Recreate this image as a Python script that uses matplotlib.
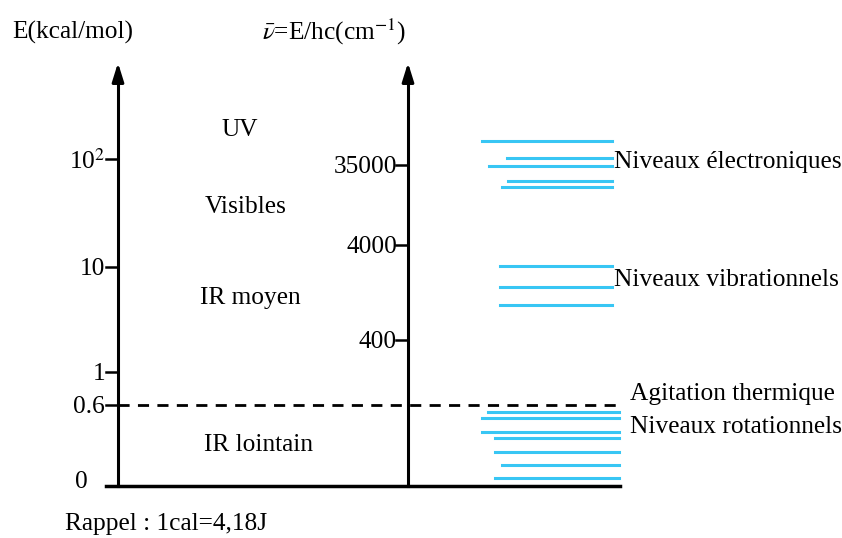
import matplotlib.pyplot as plt

# diagram laid out in pixel-like units (x right, y down)
left_ticks = ["10$^2$", "10", "1", "0.6"]
left_tick_y = [159, 267, 372, 405]
right_ticks = ["35000", "4000", "400"]
right_tick_y = [165, 245, 340]

elec_y = [141, 158, 166, 181, 187]
elec_x0 = [482, 507, 489, 508, 502]
vib_y = [266, 287, 305]
vib_x0 = [500, 500, 500]
rot_y = [412, 418, 432, 438, 452, 465, 478]
rot_x0 = [488, 482, 482, 495, 495, 502, 495]

regions = ["UV", "Visibles", "IR moyen", "IR lointain"]
region_y = [128, 205, 296, 443]
region_x = [240, 246, 250, 258]

plt.rcParams['font.family'] = ['Liberation Serif', 'DejaVu Serif']
plt.rcParams['mathtext.fontset'] = 'stix'

fig = plt.figure(figsize=(8.42, 5.38), dpi=100)
ax = fig.add_axes([0, 0, 1, 1])
ax.set_xlim(0, 842)
ax.set_ylim(538, 0)
ax.axis('off')

fs = 18.3
dy = 2  # text baseline nudge
blue = '#38c6f4'

# axes with arrows
for xa in [118, 408]:
    ax.plot([xa, xa], [486, 75], color='k', lw=2.2)
    ax.annotate('', xy=(xa, 60), xytext=(xa, 80),
                arrowprops=dict(arrowstyle='-|>,head_length=0.8,head_width=0.25',
                                color='k', lw=2.2, mutation_scale=14))
ax.plot([106, 620], [486, 486], color='k', lw=2.5)

# left ticks
for lab, y in zip(left_ticks, left_tick_y):
    ax.plot([106, 118], [y, y], color='k', lw=1.8)
    ax.text(105, y + dy, lab, ha='right', va='center', fontsize=fs)
ax.text(88, 480 + dy, "0", ha='right', va='center', fontsize=fs)

# right ticks
for lab, y in zip(right_ticks, right_tick_y):
    ax.plot([396, 408], [y, y], color='k', lw=1.8)
    ax.text(397, y + dy, lab, ha='right', va='center', fontsize=fs)

# dashed thermal line
ax.plot([118, 620], [405, 405], color='k', lw=2, ls=(0, (4, 3)))

# energy levels
for y, x0 in zip(elec_y, elec_x0):
    ax.plot([x0, 612], [y, y], color=blue, lw=2.2)
for y, x0 in zip(vib_y, vib_x0):
    ax.plot([x0, 612], [y, y], color=blue, lw=2.2)
for y, x0 in zip(rot_y, rot_x0):
    ax.plot([x0, 619], [y, y], color=blue, lw=2.2)

for lab, x, y in zip(regions, region_x, region_y):
    ax.text(x, y + dy, lab, ha='center', va='center', fontsize=fs)

ax.text(614, 160 + dy, "Niveaux électroniques", ha='left', va='center', fontsize=fs)
ax.text(614, 278 + dy, "Niveaux vibrationnels", ha='left', va='center', fontsize=fs)
ax.text(630, 392 + dy, "Agitation thermique", ha='left', va='center', fontsize=fs)
ax.text(630, 425 + dy, "Niveaux rotationnels", ha='left', va='center', fontsize=fs)

ax.text(12, 30 + dy, "E(kcal/mol)", ha='left', va='center', fontsize=fs)
ax.text(262, 30 + dy, r"$\bar{\nu}$=E/hc(cm$^{-1}$)", ha='left', va='center', fontsize=fs)
ax.text(65, 522 + dy, "Rappel : 1cal=4,18J", ha='left', va='center', fontsize=fs)

fig.savefig("out.png", dpi=100)
